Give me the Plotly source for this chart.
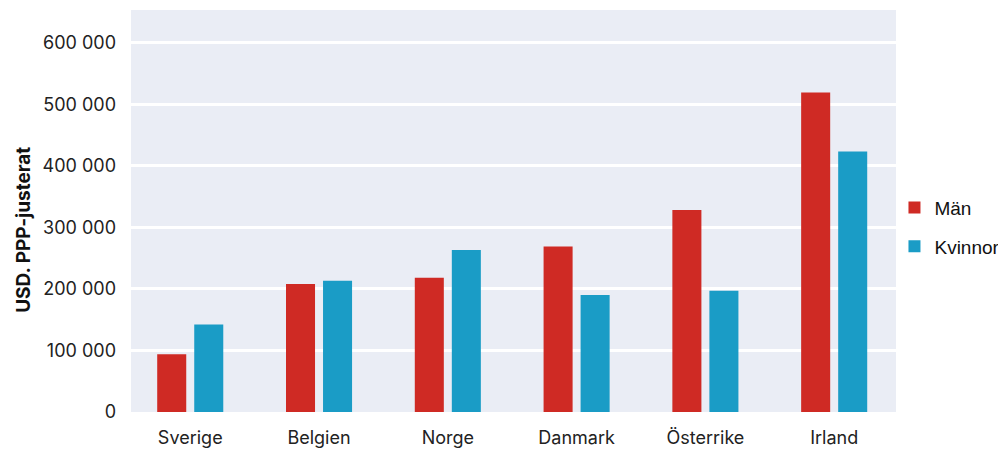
import plotly.graph_objects as go

categories = ["Sverige", "Belgien", "Norge", "Danmark", "Österrike", "Irland"]
man = [94000, 208000, 218000, 269000, 328000, 519000]
kvinnor = [142000, 213000, 263000, 190000, 197000, 423000]

RED = "#cf2a24"
BLUE = "#1a9cc6"
FONT = "Inter, Roboto, sans-serif"

fig = go.Figure()
fig.add_trace(go.Bar(x=categories, y=man, name="Män", marker_color=RED,
                     marker_line_width=0, legendgroup="a"))
fig.add_trace(go.Bar(x=categories, y=kvinnor, name="Kvinnor", marker_color=BLUE,
                     marker_line_width=0, legendgroup="b"))

# page body has an 8px margin, so margins are offset accordingly
fig.update_layout(
    width=1006, height=456,
    margin=dict(l=123, r=118, t=2, b=52, autoexpand=False),
    paper_bgcolor="white",
    plot_bgcolor="#eaedf5",
    separators=", ",
    font=dict(family=FONT, size=18, color="#222222"),
    barmode="group",
    bargap=0.425,
    bargroupgap=0.216,
    legend=dict(x=0.998, y=0.46, xanchor="left", yanchor="middle",
                font=dict(family="Liberation Sans, Arial, sans-serif", size=19, color="#111111"),
                tracegroupgap=11, itemwidth=30,
                traceorder="grouped", bgcolor="rgba(0,0,0,0)"),
    yaxis=dict(range=[0, 653000], tickvals=[0, 100000, 200000, 300000, 400000, 500000, 600000],
               tickformat=",d", gridcolor="white", gridwidth=3, zeroline=False,
               ticks="", ticklabelstandoff=14, automargin=False),
    xaxis=dict(showgrid=False, ticks="", ticklabelstandoff=13, automargin=False,
               range=[-0.46, 5.48]),
    annotations=[dict(text="<b>USD. PPP-justerat</b>", textangle=-90,
                      xref="paper", yref="paper", x=-0.14, y=0.453,
                      xanchor="center", yanchor="middle", showarrow=False,
                      font=dict(size=19, color="#111111"))],
)

fig.write_html("out.html")
